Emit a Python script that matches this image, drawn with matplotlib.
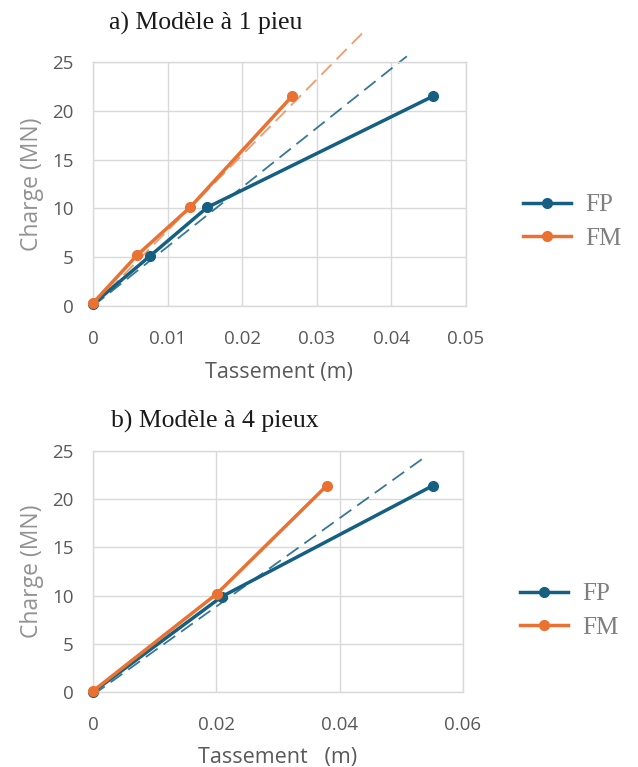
import matplotlib
matplotlib.use("Agg")
import matplotlib.pyplot as plt
from matplotlib.lines import Line2D

# ---- data: a) 1 pile ----
a_fp_x = [0.0, 0.0076, 0.0153, 0.0456]
a_fp_y = [0.2, 5.1, 10.1, 21.5]
a_fm_x = [0.0, 0.0059, 0.0130, 0.0267]
a_fm_y = [0.3, 5.2, 10.1, 21.5]
a_fp_trend_x = [0.0, 0.0421]
a_fp_trend_y = [0.0, 25.6]
a_fm_trend_x = [0.0, 0.0363]
a_fm_trend_y = [0.0, 28.1]
a_xticks = [0, 0.01, 0.02, 0.03, 0.04, 0.05]
a_xticklabels = ["0", "0.01", "0.02", "0.03", "0.04", "0.05"]

# ---- data: b) 4 piles ----
b_fp_x = [0.0, 0.0209, 0.0551]
b_fp_y = [0.0, 9.9, 21.4]
b_fm_x = [0.0, 0.0201, 0.0379]
b_fm_y = [0.1, 10.2, 21.4]
b_fp_trend_x = [0.0, 0.0541]
b_fp_trend_y = [-0.3, 24.5]
b_xticks = [0, 0.02, 0.04, 0.06]
b_xticklabels = ["0", "0.02", "0.04", "0.06"]

yticks = [0, 5, 10, 15, 20, 25]
yticklabels = ["0", "5", "10", "15", "20", "25"]
series_names = ["FP", "FM"]

BLUE = "#156082"
ORANGE = "#E97132"
GRID = "#d9d9d9"
TICK = "#595959"

fig = plt.figure(figsize=(6.38, 7.67), dpi=100)
fig.patch.set_facecolor("white")

def style_axes(ax, xlim, xticks, xticklabels, xlabel):
    ax.set_xlim(*xlim)
    ax.set_ylim(0, 25)
    ax.set_xticks(xticks)
    ax.set_xticklabels(xticklabels)
    ax.set_yticks(yticks)
    ax.set_yticklabels(yticklabels)
    ax.grid(True, color=GRID, linewidth=1.0)
    ax.set_axisbelow(True)
    for s in ax.spines.values():
        s.set_color(GRID)
        s.set_linewidth(1.0)
    ax.tick_params(axis="x", length=0, pad=17, labelsize=13.5, labelcolor=TICK)
    ax.tick_params(axis="y", length=0, pad=14, labelsize=13.5, labelcolor=TICK)
    for lab in ax.get_xticklabels() + ax.get_yticklabels():
        lab.set_fontfamily("Open Sans")
    ax.set_xlabel(xlabel, fontsize=15.5, color=TICK, family="Open Sans", labelpad=10)
    ax.set_ylabel("Charge (MN)", fontsize=16.5, color="#929292", family="Open Sans", labelpad=6)

def add_legend(yc, xl):
    h = [Line2D([], [], color=BLUE, lw=2.5, marker="o", ms=7),
         Line2D([], [], color=ORANGE, lw=2.5, marker="o", ms=7)]
    leg = fig.legend(h, series_names, loc="center left", bbox_to_anchor=(xl, yc),
                     bbox_transform=fig.transFigure, borderpad=0, borderaxespad=0,
                     frameon=False, handlelength=1.9, handletextpad=0.6,
                     labelspacing=0.45, prop={"family": "Liberation Serif", "size": 18})
    for t in leg.get_texts():
        t.set_color("#7f7f7f")

# top panel
ax1 = fig.add_axes([0.1458, 0.601, 0.5842, 0.318])
style_axes(ax1, (0, 0.05), a_xticks, a_xticklabels, "Tassement (m)")
ax1.plot(a_fm_trend_x, a_fm_trend_y, color=ORANGE, lw=1.3, ls=(0, (8, 4)), alpha=0.7, clip_on=False)
ax1.plot(a_fp_trend_x, a_fp_trend_y, color=BLUE, lw=1.3, ls=(0, (8, 4)), alpha=0.85, clip_on=False)
ax1.plot(a_fp_x, a_fp_y, color=BLUE, lw=2.5, marker="o", ms=7, clip_on=False, zorder=3)
ax1.plot(a_fm_x, a_fm_y, color=ORANGE, lw=2.5, marker="o", ms=7, clip_on=False, zorder=4)
add_legend(1 - 222 / 767, 523 / 638)
fig.text(0.322, 0.970, "a) Modèle à 1 pieu", family="Liberation Serif", fontsize=18.5,
         ha="center", va="center", color="#1a1a1a")

# bottom panel
ax2 = fig.add_axes([0.1458, 0.0978, 0.5799, 0.3142])
style_axes(ax2, (0, 0.06), b_xticks, b_xticklabels, "Tassement   (m)")
ax2.plot(b_fp_trend_x, b_fp_trend_y, color=BLUE, lw=1.3, ls=(0, (8, 4)), alpha=0.85, clip_on=False)
ax2.plot(b_fp_x, b_fp_y, color=BLUE, lw=2.5, marker="o", ms=7, clip_on=False, zorder=3)
ax2.plot(b_fm_x, b_fm_y, color=ORANGE, lw=2.5, marker="o", ms=7, clip_on=False, zorder=4)
add_legend(1 - 611 / 767, 520 / 638)
fig.text(0.337, 0.451, "b) Modèle à 4 pieux", family="Liberation Serif", fontsize=18.5,
         ha="center", va="center", color="#1a1a1a")

fig.savefig("out.png", dpi=100, facecolor="white")
